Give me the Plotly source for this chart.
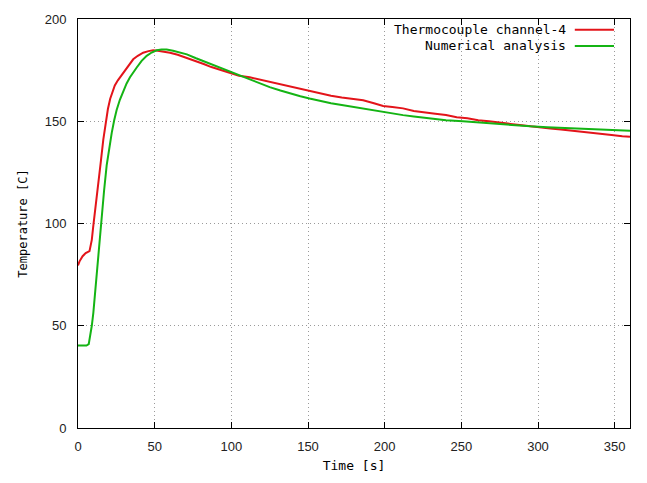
import plotly.graph_objects as go

# Thermocouple channel-4 (measured)
tc_time = [0, 1, 3, 5, 7.5, 9, 10, 11.5, 13, 15, 16.5, 18, 19.5, 21, 22.5, 24, 26, 28.5, 31, 33.5,
           36, 39, 42.5, 46, 49, 52, 56, 60, 65, 71, 76, 82, 87, 93, 99, 105, 112, 118, 125, 132,
           138, 145, 151, 158, 165, 172, 179, 186, 193, 199, 205, 212, 219, 226, 233, 240, 247, 254,
           261, 268, 275, 282, 288, 295, 302, 308, 315, 322, 328, 335, 342, 348, 355, 360]
tc_temp = [79.5, 81.5, 84, 85.5, 86.5, 92, 99, 108, 118, 131, 141, 149, 156, 161, 164.5, 167.5, 170, 172.5, 175.5, 178,
           180.3, 182, 183.5, 184.3, 184.7, 184.5, 184, 183.5, 182.5, 181, 179.5, 178, 176.5, 175, 173.5, 172.3, 171.5, 170.5, 169, 168,
           167, 166, 165, 163.8, 162.5, 161.6, 161, 160.3, 158.8, 157.5, 157, 156.3, 155, 154.5, 153.7, 153.1, 152, 151.5,
           150.5, 150, 149.5, 148.7, 148.2, 147.5, 147, 146.5, 146, 145.5, 144.8, 144.5, 144, 143.3, 142.7, 142.4]

# Numerical analysis
na_time = [0, 3, 5.5, 7, 8, 9, 10, 11, 12.2, 13.3, 14.3, 15.4, 17, 18.7, 20.3, 22, 23.6, 25.2, 27.3, 29.5,
           31.7, 33.9, 36, 38.3, 41.5, 44.8, 48, 51.3, 54.5, 57.8, 62, 66, 71, 77, 84, 90, 97, 105, 112, 118,
           125, 132, 138, 145, 151, 158, 165, 172, 179, 186, 193, 199, 205, 212, 219, 226, 233, 240, 251, 262,
           273, 284, 295, 306, 316, 327, 338, 349, 360]
na_temp = [40.3, 40.3, 40.3, 41, 45, 50, 56.3, 65, 75.5, 86, 96, 102.7, 116, 128.4, 137, 144.3, 150.5, 155.5, 160.5, 165,
           168.5, 171.5, 174, 176.3, 179.5, 182, 183.6, 184.7, 185.1, 185.1, 184.5, 183.8, 182.7, 180.8, 178.7, 177.2, 174.8, 172.5, 170.4, 168.6,
           166.7, 165.0, 163.6, 162.2, 161.1, 159.9, 158.8, 157.9, 157, 156.2, 155.3, 154.5, 153.7, 153, 152.3, 151.6, 151, 150.5, 150, 149.3,
           148.6, 148, 147.5, 147.1, 146.8, 146.5, 146, 145.7, 145.4]

series_names = ["Thermocouple channel-4", "Numerical analysis"]
series_colors = ["#e3141a", "#14b414"]

x_ticks = [0, 50, 100, 150, 200, 250, 300, 350]
y_ticks = [0, 50, 100, 150, 200]

fig = go.Figure()
fig.add_trace(go.Scatter(x=tc_time, y=tc_temp, mode="lines", name=series_names[0],
                         line=dict(color=series_colors[0], width=2), showlegend=False))
fig.add_trace(go.Scatter(x=na_time, y=na_temp, mode="lines", name=series_names[1],
                         line=dict(color=series_colors[1], width=2), showlegend=False))

# gnuplot-style legend: right-justified text with line sample on its right
legend_rows_y = [0.974, 0.934]
for name, color, yy in zip(series_names, series_colors, legend_rows_y):
    fig.add_annotation(xref="paper", yref="paper", x=0.888, y=yy, text=name, showarrow=False,
                       xanchor="right", yanchor="middle",
                       font=dict(family="DejaVu Sans Mono", size=13, color="#000"))
    fig.add_shape(type="line", xref="paper", yref="paper", x0=0.900, x1=0.971, y0=yy, y1=yy,
                  line=dict(color=color, width=2))

axis_common = dict(showline=True, mirror="ticks", linecolor="#000", linewidth=1,
                   ticks="inside", ticklen=6, tickcolor="#000",
                   showgrid=True, gridcolor="#9a9a9a", griddash="1px,3px", gridwidth=1,
                   zeroline=False,
                   tickfont=dict(family="Liberation Sans, Arial", size=13, color="#222"))

fig.update_xaxes(range=[0, 360], tickvals=x_ticks, ticklabelstandoff=6,
                 title=dict(text="Time [s]", standoff=8,
                            font=dict(family="DejaVu Sans Mono", size=13, color="#000")),
                 **axis_common)
fig.update_yaxes(range=[0, 200], tickvals=y_ticks, ticklabelstandoff=8,
                 title=dict(text="Temperature [C]", standoff=14,
                            font=dict(family="DejaVu Sans Mono", size=12, color="#000")),
                 **axis_common)

fig.update_layout(width=647, height=483, margin=dict(l=78, r=17, t=14, b=52),
                  paper_bgcolor="white", plot_bgcolor="white", showlegend=False)

fig.write_html("out.html")
